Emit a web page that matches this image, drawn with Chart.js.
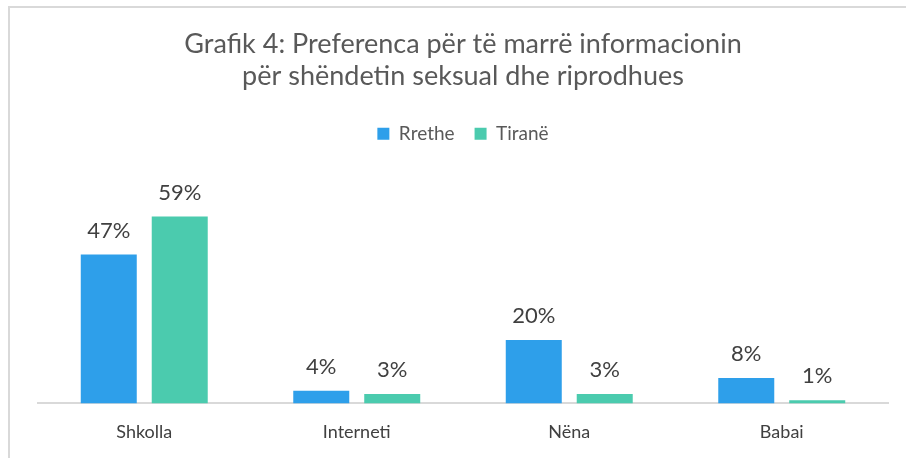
<!DOCTYPE html>
<html>
<head>
<meta charset="utf-8">
<script src="https://cdn.jsdelivr.net/npm/chart.js@4"></script>
<style>
  html, body { margin: 0; padding: 0; background: #fff; overflow: hidden; }
  .frame {
    position: absolute; left: 8px; top: 6px; width: 898px; height: 458px;
    border-left: 2px solid #d9d9d9; border-top: 2px solid #d9d9d9; box-sizing: border-box;
  }
  canvas { display: block; }
</style>
</head>
<body>
<div class="frame"><canvas id="chart" width="896" height="456"></canvas></div>
<script>
const categories = ['Shkolla', 'Interneti', 'Nëna', 'Babai'];
const rrethe = [47, 4, 20, 8];
const tirane = [59, 3, 3, 1];
const titleLines = ['Grafik 4: Preferenca për të marrë informacionin', 'për shëndetin seksual dhe riprodhues'];

const FONT = 'Lato, "Open Sans", sans-serif';

// draws the "47%" labels above each bar
const valueLabels = {
  id: 'valueLabels',
  afterDatasetsDraw(chart) {
    const ctx = chart.ctx;
    ctx.save();
    ctx.font = '22px ' + FONT;
    ctx.fillStyle = '#404040';
    ctx.textAlign = 'center';
    ctx.textBaseline = 'alphabetic';
    chart.data.datasets.forEach((ds, i) => {
      chart.getDatasetMeta(i).data.forEach((bar, j) => {
        ctx.fillText(ds.data[j] + '%', bar.x, bar.y - 17);
      });
    });
    ctx.restore();
  }
};

new Chart(document.getElementById('chart'), {
  type: 'bar',
  data: {
    labels: categories,
    datasets: [
      { label: 'Rrethe', data: rrethe, backgroundColor: '#2E9FEA' },
      { label: 'Tiranë', data: tirane, backgroundColor: '#4BCBAE' }
    ]
  },
  options: {
    responsive: false,
    animation: false,
    categoryPercentage: 0.668,
    barPercentage: 0.789,
    layout: { padding: { left: 28, right: 18, top: 0, bottom: 11 } },
    plugins: {
      title: {
        display: true,
        text: titleLines,
        color: '#595959',
        font: { family: FONT, size: 27, weight: 'normal', lineHeight: 1.17 },
        padding: { top: 21, bottom: 12 }
      },
      legend: {
        position: 'top',
        labels: {
          color: '#595959',
          font: { family: FONT, size: 19 },
          boxWidth: 12, boxHeight: 12,
          padding: 20
        }
      },
      tooltip: { enabled: false }
    },
    scales: {
      x: {
        grid: { display: false },
        border: { display: true, color: '#d9d9d9', width: 2 },
        ticks: { color: '#404040', font: { family: FONT, size: 18 }, padding: 10 }
      },
      y: { display: false, min: 0, max: 79 }
    }
  },
  plugins: [valueLabels]
});
</script>
</body>
</html>
